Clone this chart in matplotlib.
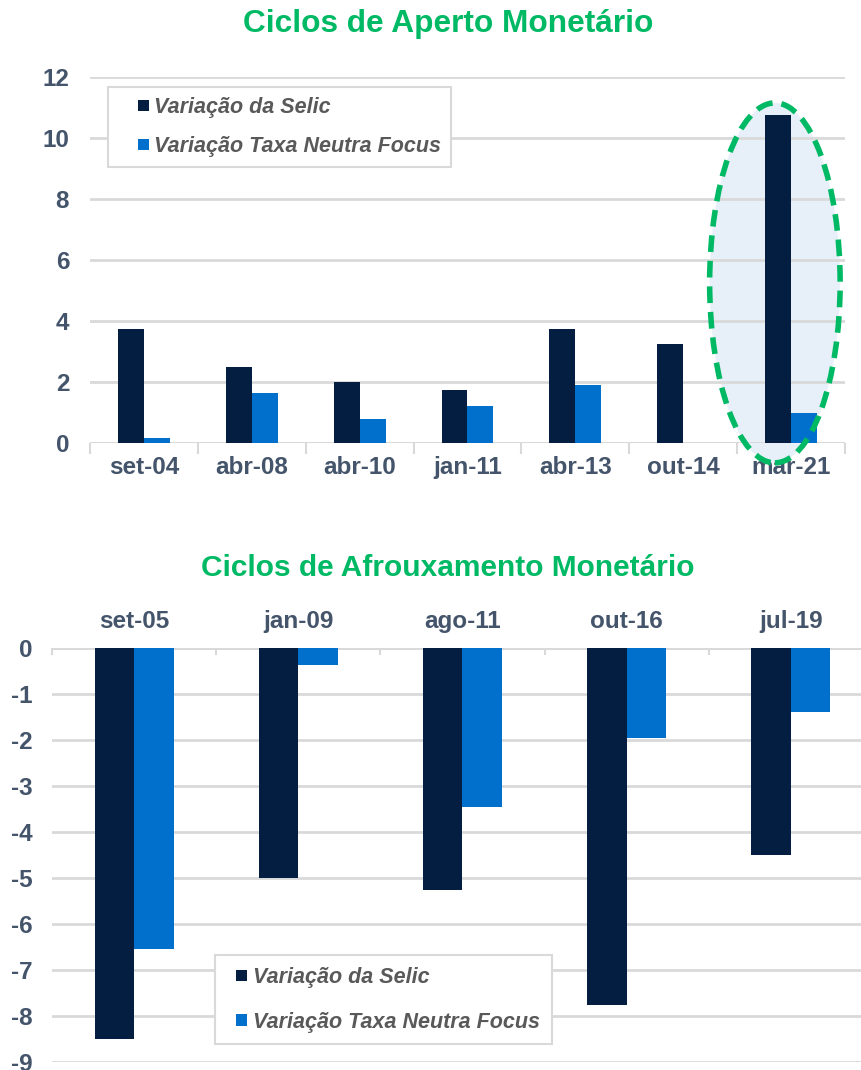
import matplotlib
matplotlib.use("Agg")
import matplotlib.pyplot as plt
import numpy as np
from matplotlib.patches import Ellipse, Rectangle
from matplotlib.legend_handler import HandlerPatch

plt.rcParams['font.family'] = ['Liberation Sans', 'DejaVu Sans']
plt.rcParams['axes.unicode_minus'] = False

# ---- data ----
aperto_labels = ["set-04", "abr-08", "abr-10", "jan-11", "abr-13", "out-14", "mar-21"]
aperto_selic = [3.75, 2.5, 2.0, 1.75, 3.75, 3.25, 10.75]
aperto_neutra = [0.15, 1.65, 0.8, 1.2, 1.9, 0.0, 1.0]

afroux_labels = ["set-05", "jan-09", "ago-11", "out-16", "jul-19"]
afroux_selic = [-8.5, -5.0, -5.25, -7.75, -4.5]
afroux_neutra = [-6.55, -0.37, -3.45, -1.95, -1.4]

series_names = ["Variação da Selic", "Variação Taxa Neutra Focus"]

DARK = "#041E42"
BLUE = "#0070CC"
GREEN = "#00B964"
TICK = "#44546A"
GRID = "#D9D9D9"
LEG = "#595959"

W, H = 862, 1070
fig = plt.figure(figsize=(W / 100, H / 100), dpi=100)

TICKSIZE = 17.5
LEGSIZE = 15.5
SQ = 8.0  # legend square size in points


def square_handle(legend, orig_handle, xdescent, ydescent, width, height, fontsize):
    return Rectangle((-xdescent + width - SQ, -ydescent + (height - SQ) / 2), SQ, SQ)


def style_axes(ax, ypad):
    for s in ax.spines.values():
        s.set_visible(False)
    ax.grid(axis="y", color=GRID, lw=2, zorder=0)
    ax.set_axisbelow(True)
    ax.tick_params(axis="y", length=0, labelsize=TICKSIZE, labelcolor=TICK, pad=ypad)


def make_legend(ax, anchor, handlelength, labelspacing, borderpad, textpad):
    handles = [Rectangle((0, 0), 1, 1, facecolor=DARK, edgecolor="none"),
               Rectangle((0, 0), 1, 1, facecolor=BLUE, edgecolor="none")]
    leg = ax.legend(handles, series_names, loc="upper left", bbox_to_anchor=anchor,
                    frameon=True, fancybox=False, edgecolor="#D9D9D9", framealpha=1,
                    prop={"size": LEGSIZE, "style": "italic", "weight": "bold"},
                    handlelength=handlelength, handleheight=0.7, handletextpad=textpad,
                    labelspacing=labelspacing, borderpad=borderpad, borderaxespad=0,
                    handler_map={Rectangle: HandlerPatch(patch_func=square_handle)})
    for t in leg.get_texts():
        t.set_color(LEG)
    leg.get_frame().set_linewidth(1.5)
    return leg


bw = 0.24

# ---- top chart ----
ax1 = fig.add_axes([90 / W, 1 - 443 / H, (845 - 90) / W, (443 - 77) / H])
x1 = np.arange(len(aperto_labels))
ax1.set_xlim(-0.5, len(aperto_labels) - 0.5)
ax1.set_ylim(0, 12)
ax1.set_yticks(range(0, 13, 2))
style_axes(ax1, 15)

# highlight ellipse
ell_fill = Ellipse((5.85, 5.25), 1.21, 11.8, facecolor="#E7EFF8", edgecolor="none",
                   zorder=0.5, clip_on=False)
ax1.add_patch(ell_fill)

ax1.bar(x1 - bw / 2, aperto_selic, bw, color=DARK, zorder=3)
ax1.bar(x1 + bw / 2, aperto_neutra, bw, color=BLUE, zorder=3)
ax1.axhline(0, color=GRID, lw=2, zorder=2)

ell_edge = Ellipse((5.85, 5.25), 1.21, 11.8, facecolor="none", edgecolor=GREEN,
                   lw=4, linestyle=(0, (3, 1.6)), zorder=6, clip_on=False)
ax1.add_patch(ell_edge)

ax1.set_xticks(x1)
ax1.set_xticklabels(aperto_labels)
ax1.set_xticks(np.arange(-0.5, len(aperto_labels), 1), minor=True)
ax1.tick_params(axis="x", which="major", length=0, labelsize=TICKSIZE, labelcolor=TICK, pad=9)
ax1.tick_params(axis="x", which="minor", length=8, width=1.5, color=GRID)
for t in ax1.get_xticklabels() + ax1.get_yticklabels():
    t.set_fontweight("bold")

make_legend(ax1, ((108 - 90) / (845 - 90), (443 - 87) / (443 - 77)),
            handlelength=1.46, labelspacing=0.85, borderpad=0.45, textpad=0.23)

fig.text(448 / W, 1 - 24 / H, "Ciclos de Aperto Monetário", ha="center", va="center",
         fontsize=22.8, fontweight="bold", color=GREEN)

# ---- bottom chart ----
ax2 = fig.add_axes([52 / W, 1 - 1062 / H, (873 - 52) / W, (1062 - 648) / H])
x2 = np.arange(len(afroux_labels))
ax2.set_xlim(-0.5, len(afroux_labels) - 0.5)
ax2.set_ylim(-9, 0)
ax2.set_yticks(range(-9, 1))
style_axes(ax2, 14)
ax2.bar(x2 - bw / 2, afroux_selic, bw, color=DARK, zorder=3)
ax2.bar(x2 + bw / 2, afroux_neutra, bw, color=BLUE, zorder=3)
ax2.axhline(0, color=GRID, lw=2, zorder=2)
ax2.xaxis.tick_top()
ax2.set_xticks(x2)
ax2.set_xticklabels(afroux_labels)
ax2.set_xticks(np.arange(-0.5, len(afroux_labels), 1), minor=True)
ax2.tick_params(axis="x", which="major", length=0, labelsize=TICKSIZE, labelcolor=TICK, pad=11)
ax2.tick_params(axis="x", which="minor", length=5, width=1.5, color=GRID, direction="in")
for t in ax2.get_xticklabels() + ax2.get_yticklabels():
    t.set_fontweight("bold")

make_legend(ax2, ((215 - 52) / (873 - 52), (1062 - 955) / (1062 - 648)),
            handlelength=0.95, labelspacing=1.1, borderpad=0.55, textpad=0.28)

fig.text(448 / W, 1 - 568 / H, "Ciclos de Afrouxamento Monetário", ha="center", va="center",
         fontsize=21.5, fontweight="bold", color=GREEN)

fig.savefig("out.png", dpi=100, facecolor="white")
